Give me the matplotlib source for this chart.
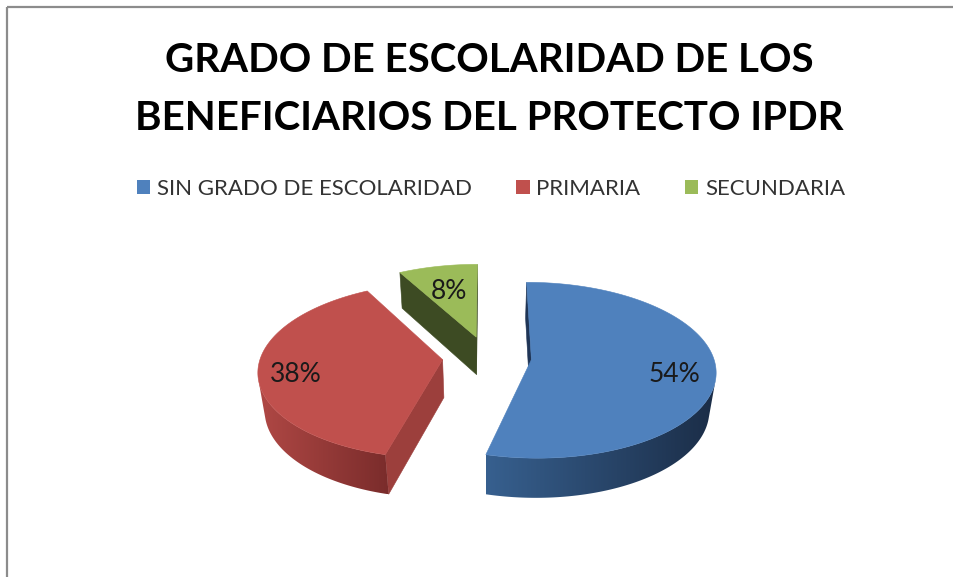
import numpy as np
import matplotlib
matplotlib.use("Agg")
import matplotlib.pyplot as plt
from matplotlib.patches import Polygon, Patch
from matplotlib.colors import LinearSegmentedColormap

# ---- data ----
categories = ["SIN GRADO DE ESCOLARIDAD", "PRIMARIA", "SECUNDARIA"]
values = [54, 38, 8]
title_lines = ["GRADO DE ESCOLARIDAD DE LOS", "BENEFICIARIOS DEL PROTECTO IPDR"]

# ---- style ----
top_colors = ["#4F81BD", "#C0504D", "#9BBB59"]
outer_light = ["#37608F", "#B04845", "#7A9445"]
outer_dark = ["#1B2D47", "#7A2C2B", "#5B7033"]
radial_colors = ["#1F3556", "#9C3F3C", "#3D4B23"]
label_radius = [0.78, 0.8, 0.7]
FONT = ["Lato", "DejaVu Sans"]

W, Hpx = 954, 577
fig = plt.figure(figsize=(W / 100, Hpx / 100), dpi=100)
ax = fig.add_axes([0, 0, 1, 1])
ax.set_xlim(0, W)
ax.set_ylim(Hpx, 0)
ax.axis("off")

# pseudo-3D projection (pixel space, y down)
CX, CY = 487, 357
R, RY, DEPTH = 182, 86, 39
P, Q = 0.12, 0.03
EXPLODE = 0.245


def proj(u, v, z):
    f = 1.0 / (1 + P * v + Q * z)
    return (CX + R * u * f, CY - RY * v * f + DEPTH * z * f)


def area(pts):
    pts = np.asarray(pts)
    x, y = pts[:, 0], pts[:, 1]
    return 0.5 * np.sum(x * np.roll(y, -1) - np.roll(x, -1) * y)


def gradient_fill(pts, c1, c2, z):
    pts = np.asarray(pts)
    poly = Polygon(pts, closed=True, facecolor="none", edgecolor="none", zorder=z)
    ax.add_patch(poly)
    cmap = LinearSegmentedColormap.from_list("g", [c1, c2])
    grad = np.linspace(0, 1, 256).reshape(1, -1)
    xmin, xmax = pts[:, 0].min(), pts[:, 0].max()
    ymin, ymax = pts[:, 1].min(), pts[:, 1].max()
    im = ax.imshow(grad, cmap=cmap, extent=(xmin, xmax, ymax, ymin),
                   aspect="auto", interpolation="bilinear", zorder=z)
    im.set_clip_path(poly)


fracs = np.array(values, dtype=float) / sum(values)
bounds = np.concatenate([[0], np.cumsum(fracs)]) * 2 * np.pi

slices = []
for i in range(len(values)):
    t1, t2 = bounds[i], bounds[i + 1]
    mid = 0.5 * (t1 + t2)
    ou, ov = EXPLODE * np.sin(mid), EXPLODE * np.cos(mid)
    slices.append((i, t1, t2, mid, ou, ov))

order = sorted(slices, key=lambda s: -s[5])
for rank, (i, t1, t2, mid, ou, ov) in enumerate(order):
    zb = 10 + rank * 10
    ts = np.linspace(t1, t2, 240)
    au, av = ou + np.sin(ts), ov + np.cos(ts)
    tops = [proj(u, v, 0) for u, v in zip(au, av)]
    bots = [proj(u, v, 1) for u, v in zip(au, av)]
    c_t, c_b = proj(ou, ov, 0), proj(ou, ov, 1)

    # radial walls
    w2 = [c_t, tops[-1], bots[-1], c_b]
    w1 = [tops[0], c_t, c_b, bots[0]]
    for w in (w1, w2):
        if area(w) > 0:
            ax.add_patch(Polygon(w, closed=True, facecolor=radial_colors[i],
                                 edgecolor=radial_colors[i], lw=0.4, zorder=zb + 1))

    # outer curved wall (visible runs)
    vis = [area([tops[j + 1], tops[j], bots[j], bots[j + 1]]) > 0
           for j in range(len(ts) - 1)]
    j = 0
    while j < len(vis):
        if vis[j]:
            k = j
            while k < len(vis) and vis[k]:
                k += 1
            run_top = tops[j:k + 1]
            run_bot = bots[j:k + 1][::-1]
            gradient_fill(run_top + run_bot, outer_light[i], outer_dark[i], zb + 2)
            j = k
        else:
            j += 1

    # top face
    ax.add_patch(Polygon([c_t] + tops, closed=True, facecolor=top_colors[i],
                         edgecolor=top_colors[i], lw=0.4, zorder=zb + 3))

    # percentage label
    lr = label_radius[i]
    lx, ly = proj(ou + lr * np.sin(mid), ov + lr * np.cos(mid), 0.15)
    ax.text(lx, ly, f"{round(fracs[i] * 100):d}%", ha="center", va="center",
            fontsize=19, color="#1a1a1a", family=FONT, zorder=100)

# title
for k, line in enumerate(title_lines):
    ax.text(489, 72 + 58 * k, line, ha="center", va="baseline",
            fontsize=29, fontweight="bold", color="black", family=FONT)

# legend
handles = [Patch(facecolor=c, edgecolor="none") for c in top_colors]
leg = fig.legend(handles, categories, loc="center", ncol=3,
                 bbox_to_anchor=(491 / W, 1 - 189 / Hpx), frameon=False,
                 handlelength=0.6, handleheight=0.6, handletextpad=0.3,
                 columnspacing=2.0, borderpad=0,
                 prop={"family": FONT, "size": 16})
for t in leg.get_texts():
    t.set_color("#333333")

# chart border (top and left)
ax.plot([7, W], [7, 7], color="#8c8c8c", lw=1.6, solid_capstyle="butt", zorder=200)
ax.plot([7, 7], [7, Hpx], color="#8c8c8c", lw=1.6, solid_capstyle="butt", zorder=200)

ax.set_xlim(0, W)
ax.set_ylim(Hpx, 0)
fig.savefig("out.png", dpi=100, facecolor="white")
